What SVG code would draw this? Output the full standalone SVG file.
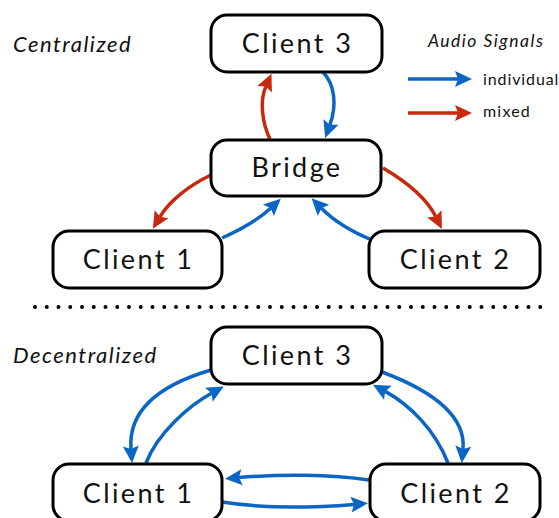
<svg xmlns="http://www.w3.org/2000/svg" width="559" height="518" viewBox="0 0 559 518">
  <style>
    .box { fill: #ffffff; stroke: #000000; stroke-width: 3; }
    .name { font-family: Lato, "Open Sans", sans-serif; font-size: 27px; letter-spacing: 2.4px; fill: #111111; text-anchor: middle; }
    .title { font-family: Lato, "Open Sans", sans-serif; font-style: italic; font-size: 22px; letter-spacing: 1.5px; fill: #111111; }
    .legend { font-family: Lato, "Open Sans", sans-serif; font-size: 16px; letter-spacing: 0.9px; fill: #111111; }
    .ind { fill: none; stroke: #0b66c3; stroke-width: 3.5; marker-end: url(#headBlue); }
    .mix { fill: none; stroke: #c8290d; stroke-width: 3.5; marker-end: url(#headRed); }
  </style>
  <defs>
    <marker id="headBlue" markerUnits="userSpaceOnUse" viewBox="-4 -9 20 18" markerWidth="20" markerHeight="18" refX="0" refY="0" orient="auto">
      <path d="M-3,-8 L14,0 L-3,8 L0,0 Z" fill="#0b66c3"/>
    </marker>
    <marker id="headRed" markerUnits="userSpaceOnUse" viewBox="-4 -9 20 18" markerWidth="20" markerHeight="18" refX="0" refY="0" orient="auto">
      <path d="M-3,-8 L14,0 L-3,8 L0,0 Z" fill="#c8290d"/>
    </marker>
  </defs>

  <!-- section titles -->
  <text class="title" x="13" y="52">Centralized</text>
  <text class="title" x="13" y="363">Decentralized</text>

  <!-- legend -->
  <g id="legend">
    <text class="title" x="428" y="47" style="font-size:17.5px">Audio Signals</text>
    <path class="ind" d="M408,79 L458,79"/>
    <text class="legend" x="483" y="85">individual</text>
    <path class="mix" d="M408,113 L458,113"/>
    <text class="legend" x="483" y="117" style="letter-spacing:1.2px">mixed</text>
  </g>

  <!-- separator -->
  <line x1="35" y1="307" x2="552" y2="307" stroke="#000000" stroke-width="4" stroke-linecap="round" stroke-dasharray="0 11.75"/>

  <!-- centralized connectors -->
  <g id="central-links">
    <path class="mix" d="M270,139 C263,125 259,102 265.8,86.6"/>
    <path class="ind" d="M323,72 C335,85 337,105 329.9,124.8"/>
    <path class="mix" d="M211,175 C190,185 170,200 160,216.8"/>
    <path class="ind" d="M222,238 C240,230 258,220 270.6,208.2"/>
    <path class="mix" d="M383,168 C400,178 425,195 435.7,216.5"/>
    <path class="ind" d="M372,240 C355,233 335,222 321.4,208.2"/>
  </g>

  <!-- decentralized connectors -->
  <g id="mesh-links">
    <path class="ind" d="M211,370 C160,385 128,410 131,449"/>
    <path class="ind" d="M146,463 C158,432 190,405 211.5,393.2"/>
    <path class="ind" d="M369,480 C330,474 280,474 239,477.6"/>
    <path class="ind" d="M222,502 C260,508 310,508 354,504.4"/>
    <path class="ind" d="M382,372 C430,390 466,415 463,449"/>
    <path class="ind" d="M448,463 C435,430 410,405 385.2,391.4"/>
  </g>

  <!-- centralized nodes -->
  <g id="c-client3">
    <rect class="box" x="211" y="15" width="171" height="57" rx="16"/>
    <text class="name" x="297.5" y="53">Client 3</text>
  </g>
  <g id="c-bridge">
    <rect class="box" x="211" y="140" width="170" height="56" rx="16"/>
    <text class="name" x="297" y="177">Bridge</text>
  </g>
  <g id="c-client1">
    <rect class="box" x="53" y="231" width="169" height="57" rx="16"/>
    <text class="name" x="138.5" y="269">Client 1</text>
  </g>
  <g id="c-client2">
    <rect class="box" x="369" y="231" width="171" height="57" rx="16"/>
    <text class="name" x="455.5" y="269">Client 2</text>
  </g>

  <!-- decentralized nodes -->
  <g id="d-client3">
    <rect class="box" x="211" y="327" width="171" height="57" rx="16"/>
    <text class="name" x="297.5" y="365">Client 3</text>
  </g>
  <g id="d-client1">
    <rect class="box" x="53" y="464" width="169" height="57" rx="16"/>
    <text class="name" x="138.5" y="503">Client 1</text>
  </g>
  <g id="d-client2">
    <rect class="box" x="370" y="464" width="170" height="57" rx="16"/>
    <text class="name" x="456" y="503">Client 2</text>
  </g>
</svg>
